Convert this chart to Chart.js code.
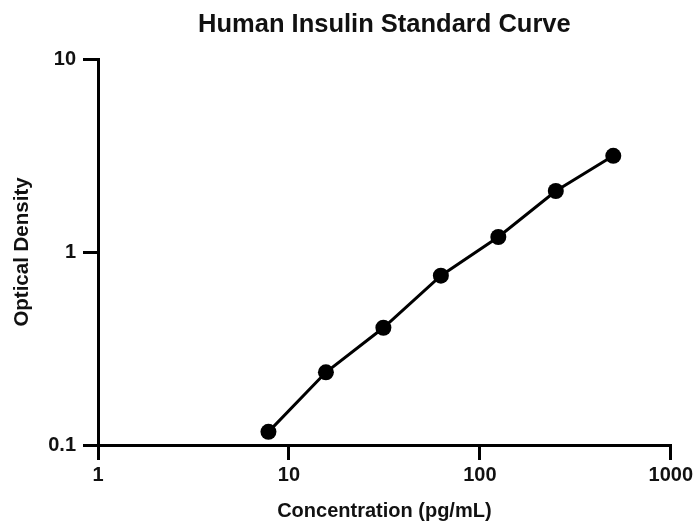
<!DOCTYPE html>
<html>
<head>
<meta charset="utf-8">
<script src="https://cdn.jsdelivr.net/npm/chart.js@4/dist/chart.umd.min.js"></script>
<style>
    html, body { margin: 0; padding: 0; background: #fff; }
    #wrap { width: 696px; height: 525px; }
</style>
</head>
<body>
<div id="wrap"><canvas id="curveChart" width="696" height="525"></canvas></div>
<script>
// Standard curve data
const concentrations = [7.8125, 15.625, 31.25, 62.5, 125, 250, 500];
const opticalDensity = [0.117, 0.238, 0.405, 0.754, 1.196, 2.07, 3.15];

// Axis tick labels
const xTicks = [1, 10, 100, 1000];
const yTicks = [0.1, 1, 10];

const FONT = '"Liberation Sans", Arial, sans-serif';
const INK = '#111';

document.addEventListener('DOMContentLoaded', function() {
    const ctx = document.getElementById('curveChart').getContext('2d');

    const points = concentrations.map((c, i) => ({ x: c, y: opticalDensity[i] }));

    // center the title over the plot area instead of the whole canvas
    const titleOverPlot = {
        id: 'titleOverPlot',
        afterLayout: function(chart) {
            const t = chart.titleBlock;
            if (t) {
                t.left = chart.chartArea.left;
                t.right = chart.chartArea.right;
            }
        }
    };

    // shared look for both log axes
    function axisStyle(labelPadding) {
        return {
            border: { display: true, color: '#000', width: 3 },
            grid: {
                drawOnChartArea: false,
                drawTicks: true,
                tickLength: 15,
                color: '#000',
                lineWidth: 3
            },
            ticks: {
                color: INK,
                padding: labelPadding,
                maxRotation: 0,
                autoSkip: false,
                font: { family: FONT, size: 20, weight: 'bold' },
                callback: function(value) { return String(value); }
            }
        };
    }

    new Chart(ctx, {
        type: 'line',
        data: {
            datasets: [{
                label: 'Optical Density',
                data: points,
                borderColor: '#000',
                backgroundColor: '#000',
                borderWidth: 3,
                pointRadius: 8,
                pointBackgroundColor: '#000',
                pointBorderWidth: 0,
                tension: 0,
                clip: false
            }]
        },
        options: {
            responsive: false,
            animation: false,
            layout: {
                padding: { left: 0, right: 23, top: 0, bottom: 0 }
            },
            plugins: {
                legend: { display: false },
                tooltip: { enabled: false },
                title: {
                    display: true,
                    text: 'Human Insulin Standard Curve',
                    color: INK,
                    font: { family: FONT, size: 25.5, weight: 'bold' },
                    padding: { top: 10, bottom: 18.4 }
                }
            },
            scales: {
                x: Object.assign(axisStyle(3), {
                    type: 'logarithmic',
                    min: 1,
                    max: 1000,
                    afterFit: function(scale) { scale.height = 80; },
                    afterBuildTicks: function(scale) {
                        scale.ticks = xTicks.map(v => ({ value: v }));
                    },
                    title: {
                        display: true,
                        text: 'Concentration (pg/mL)',
                        color: INK,
                        font: { family: FONT, size: 20, weight: 'bold' },
                        padding: { top: 0, bottom: 2 }
                    }
                }),
                y: Object.assign(axisStyle(7), {
                    type: 'logarithmic',
                    min: 0.1,
                    max: 10,
                    afterFit: function(scale) { scale.width = 98; },
                    afterBuildTicks: function(scale) {
                        scale.ticks = yTicks.map(v => ({ value: v }));
                    },
                    title: {
                        display: true,
                        text: 'Optical Density',
                        color: INK,
                        font: { family: FONT, size: 20.5, weight: 'bold' },
                        padding: { top: 10, bottom: 0 }
                    }
                })
            }
        },
        plugins: [titleOverPlot]
    });
});
</script>
</body>
</html>
